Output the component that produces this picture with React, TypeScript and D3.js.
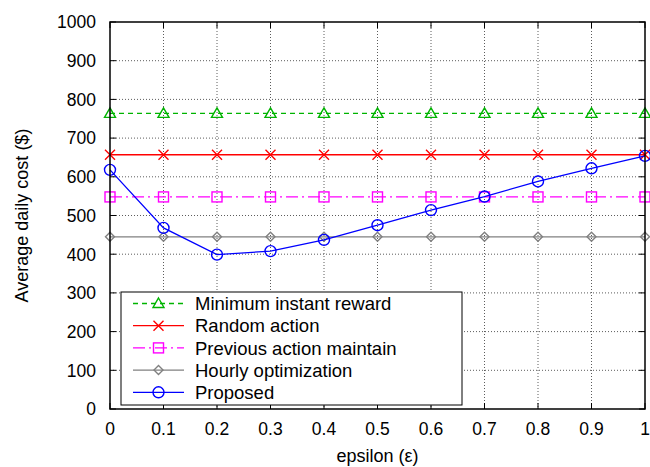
import React from "react";
import * as d3 from "d3";

const epsilon = [0, 0.1, 0.2, 0.3, 0.4, 0.5, 0.6, 0.7, 0.8, 0.9, 1];
const minInstantReward = [764, 764, 764, 764, 764, 764, 764, 764, 764, 764, 764];
const randomAction = [657, 657, 657, 657, 657, 657, 657, 657, 657, 657, 657];
const previousActionMaintain = [548, 548, 548, 548, 548, 548, 548, 548, 548, 548, 548];
const hourlyOptimization = [445, 445, 445, 445, 445, 445, 445, 445, 445, 445, 445];
const proposed = [618, 468, 399, 408, 437, 475, 514, 549, 588, 622, 654];

const xTicks = [0, 0.1, 0.2, 0.3, 0.4, 0.5, 0.6, 0.7, 0.8, 0.9, 1];
const yTicks = [0, 100, 200, 300, 400, 500, 600, 700, 800, 900, 1000];

type Marker = "triangle" | "cross" | "square" | "diamond" | "circle";
interface Series {
  name: string;
  values: number[];
  color: string;
  dash: string | undefined;
  marker: Marker;
}

const series: Series[] = [
  { name: "Minimum instant reward", values: minInstantReward, color: "#00b400", dash: "5,4", marker: "triangle" },
  { name: "Random action", values: randomAction, color: "#ff0000", dash: undefined, marker: "cross" },
  { name: "Previous action maintain", values: previousActionMaintain, color: "#ff00ff", dash: "12,4,2,4", marker: "square" },
  { name: "Hourly optimization", values: hourlyOptimization, color: "#808080", dash: undefined, marker: "diamond" },
  { name: "Proposed", values: proposed, color: "#0000ff", dash: undefined, marker: "circle" },
];

const W = 650;
const H = 467;
const m = { left: 110, right: 645, top: 22, bottom: 409 };
const FONT = "'Liberation Sans', Arial, Helvetica, sans-serif";

function MarkerShape({ type, x, y, color }: { type: Marker; x: number; y: number; color: string }) {
  const sw = 1.4;
  switch (type) {
    case "triangle":
      return (
        <path
          d={`M${x},${y - 5.5}L${x + 5.5},${y + 4}L${x - 5.5},${y + 4}Z`}
          fill="none"
          stroke={color}
          strokeWidth={sw}
        />
      );
    case "cross":
      return (
        <path
          d={`M${x - 5},${y - 5}L${x + 5},${y + 5}M${x - 5},${y + 5}L${x + 5},${y - 5}`}
          stroke={color}
          strokeWidth={sw}
        />
      );
    case "square":
      return <rect x={x - 5} y={y - 5} width={10} height={10} fill="none" stroke={color} strokeWidth={sw} />;
    case "diamond":
      return (
        <path
          d={`M${x},${y - 4.5}L${x + 4.5},${y}L${x},${y + 4.5}L${x - 4.5},${y}Z`}
          fill="none"
          stroke={color}
          strokeWidth={sw}
        />
      );
    case "circle":
      return <circle cx={x} cy={y} r={5.5} fill="none" stroke={color} strokeWidth={sw} />;
  }
}

export default function App() {
  const x = d3.scaleLinear().domain([0, 1]).range([m.left, m.right]);
  const y = d3.scaleLinear().domain([0, 1000]).range([m.bottom, m.top]);
  const line = d3
    .line<number>()
    .x((_, i) => x(epsilon[i]))
    .y((d) => y(d));

  const tick = 6;
  const legend = { x0: 121, x1: 462, y0: 292, y1: 405, rowH: 22.2, first: 303.5 };

  return (
    <svg width={W} height={H} style={{ position: "absolute", left: 0, top: 0, background: "#fff" }} fontFamily={FONT}>
      <rect x={0} y={0} width={W} height={H} fill="#fff" />
      {/* grid */}
      <g stroke="#000" strokeWidth={0.8} strokeDasharray="1,2" opacity={0.8}>
        {xTicks.slice(1, -1).map((t) => (
          <line key={`gx${t}`} x1={x(t)} x2={x(t)} y1={m.top} y2={m.bottom} />
        ))}
        {yTicks.slice(1, -1).map((t) => (
          <line key={`gy${t}`} x1={m.left} x2={m.right} y1={y(t)} y2={y(t)} />
        ))}
      </g>
      {/* tick marks on all four sides */}
      <g stroke="#000" strokeWidth={1}>
        {xTicks.map((t) => (
          <g key={`tx${t}`}>
            <line x1={x(t)} x2={x(t)} y1={m.bottom} y2={m.bottom - tick} />
            <line x1={x(t)} x2={x(t)} y1={m.top} y2={m.top + tick} />
          </g>
        ))}
        {yTicks.map((t) => (
          <g key={`ty${t}`}>
            <line x1={m.left} x2={m.left + tick} y1={y(t)} y2={y(t)} />
            <line x1={m.right} x2={m.right - tick} y1={y(t)} y2={y(t)} />
          </g>
        ))}
      </g>
      {/* series */}
      {series.map((s) => (
        <g key={s.name}>
          <path d={line(s.values) ?? ""} fill="none" stroke={s.color} strokeWidth={1.3} strokeDasharray={s.dash} />
          {s.values.map((v, i) => (
            <MarkerShape key={i} type={s.marker} x={x(epsilon[i])} y={y(v)} color={s.color} />
          ))}
        </g>
      ))}
      {/* legend */}
      <rect
        x={legend.x0}
        y={legend.y0}
        width={legend.x1 - legend.x0}
        height={legend.y1 - legend.y0}
        fill="#fff"
        stroke="#000"
        strokeWidth={1}
      />
      {series.map((s, i) => {
        const cy = legend.first + i * legend.rowH;
        return (
          <g key={`lg${s.name}`}>
            <line x1={133} x2={184} y1={cy} y2={cy} stroke={s.color} strokeWidth={1.3} strokeDasharray={s.dash} />
            <MarkerShape type={s.marker} x={158.5} y={cy} color={s.color} />
            <text x={195} y={cy} dy="0.36em" fontSize={18.5} fill="#000">
              {s.name}
            </text>
          </g>
        );
      })}
      {/* border */}
      <rect x={m.left} y={m.top} width={m.right - m.left} height={m.bottom - m.top} fill="none" stroke="#000" strokeWidth={1.5} />
      {/* tick labels */}
      <g fontSize={17.5} fill="#000">
        {xTicks.map((t) => (
          <text key={`lx${t}`} x={x(t)} y={428.5} dy="0.36em" textAnchor="middle">
            {d3.format("~g")(t)}
          </text>
        ))}
        {yTicks.map((t) => (
          <text key={`ly${t}`} x={96} y={y(t)} dy="0.36em" textAnchor="end">
            {t}
          </text>
        ))}
      </g>
      <text x={x(0.5)} y={462} textAnchor="middle" fontSize={18}>
        epsilon (ε)
      </text>
      <text transform={`translate(22,${(m.top + m.bottom) / 2}) rotate(-90)`} dy="0.36em" textAnchor="middle" fontSize={18}>
        Average daily cost ($)
      </text>
    </svg>
  );
}
